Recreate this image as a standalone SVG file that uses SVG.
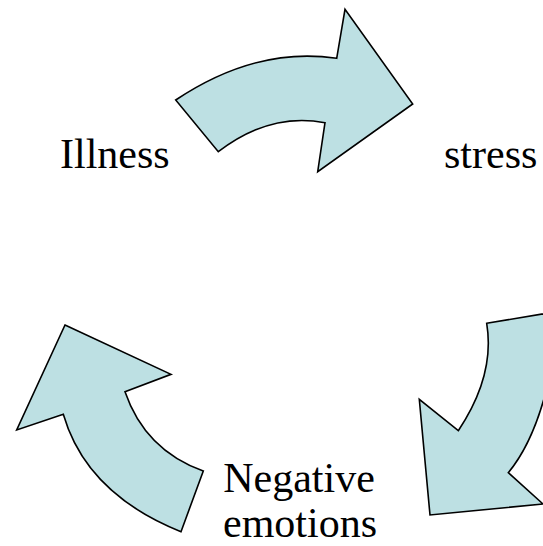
<svg xmlns="http://www.w3.org/2000/svg" width="543" height="546" viewBox="0 0 543 546">
<style>
.arrow{fill:#bde0e3;stroke:#000;stroke-width:1.6;stroke-linejoin:miter}
.lbl{font-family:"Liberation Serif","Times New Roman",serif;font-size:42px;fill:#000}
</style>
<rect width="543" height="546" fill="#fff"/>
<g id="connectors">
<path class="arrow" d="M175.7,100 Q256.4,46.2 336.7,58.3 L345,9.3 L412.7,104 L317.7,171.7 L325,122.7 Q270,112 218.3,151.7 Z"/>
<path class="arrow" d="M486.7,323.3 L560,311 Q548,425 508.3,472.7 L543,504 L430,515 L419.3,399.3 L458.3,430.7 Q495.3,375.5 486.7,323.3 Z"/>
<path class="arrow" d="M65,325 L171,374.3 L125,391.7 Q145,450 203.3,471 L181,531.7 Q86.4,493.8 63.3,414.3 L16.7,430 Z"/>
</g>
<g id="illness"><text class="lbl" x="60" y="167.5">Illness</text></g>
<g id="stress"><text class="lbl" x="444" y="167.5">stress</text></g>
<g id="negative-emotions"><text class="lbl" x="299" y="492" text-anchor="middle">Negative</text><text class="lbl" x="300" y="537" text-anchor="middle">emotions</text></g>
</svg>
